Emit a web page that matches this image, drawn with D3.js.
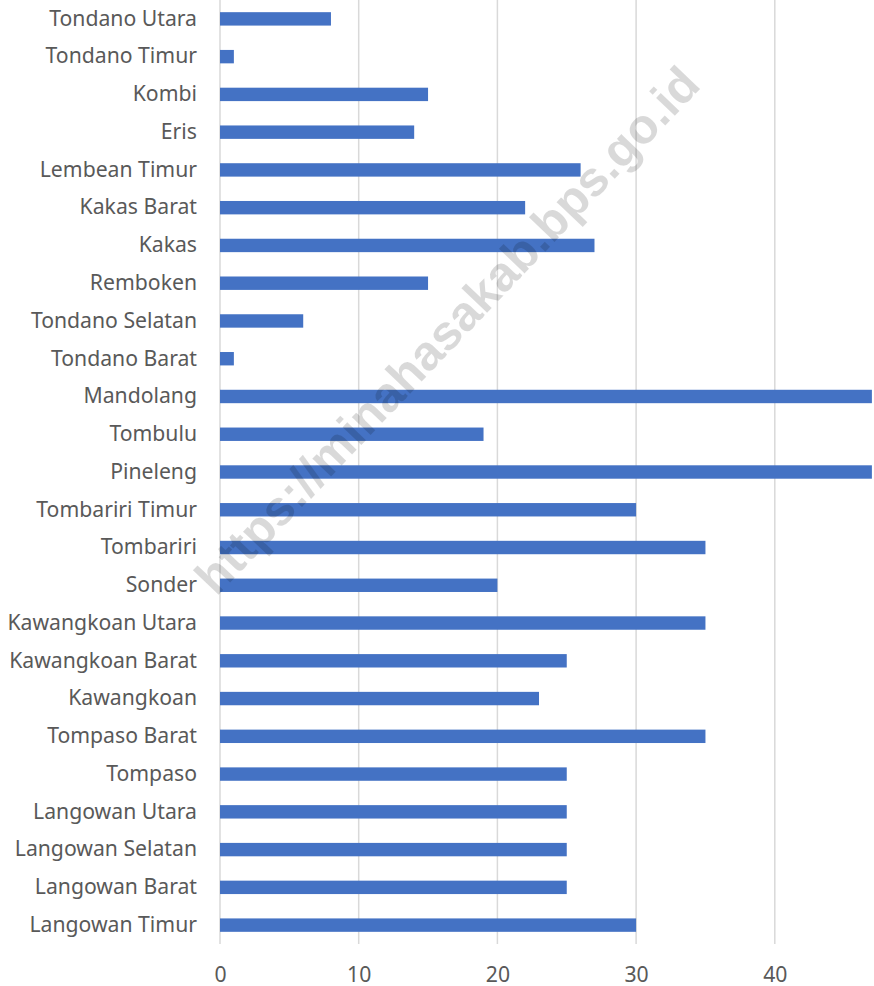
<!DOCTYPE html>
<html>
<head>
<meta charset="utf-8">
<script src="https://cdn.jsdelivr.net/npm/d3@7"></script>
<style>
  body { margin: 0; background: #fff; }
  svg { display: block; }
</style>
</head>
<body>
<svg width="874" height="986"></svg>
<script>
// categories top to bottom, as shown in the chart
const kecamatan = [
  'Tondano Utara', 'Tondano Timur', 'Kombi', 'Eris', 'Lembean Timur',
  'Kakas Barat', 'Kakas', 'Remboken', 'Tondano Selatan', 'Tondano Barat',
  'Mandolang', 'Tombulu', 'Pineleng', 'Tombariri Timur', 'Tombariri',
  'Sonder', 'Kawangkoan Utara', 'Kawangkoan Barat', 'Kawangkoan', 'Tompaso Barat',
  'Tompaso', 'Langowan Utara', 'Langowan Selatan', 'Langowan Barat', 'Langowan Timur'
];
const nilai = [
  8, 1, 15, 14, 26,
  22, 27, 15, 6, 1,
  47, 19, 47, 30, 35,
  20, 35, 25, 23, 35,
  25, 25, 25, 25, 30
];
const xTicks = [0, 10, 20, 30, 40];
const watermark = 'https://minahasakab.bps.go.id';

const svg = d3.select('svg');
const plotLeft = 220, plotTop = 0, plotBottom = 944;

// the original is cropped on the right, 10 units = ~138.7px
const x = d3.scaleLinear().domain([0, 50]).range([plotLeft, plotLeft + 50 * 13.87]);
const y = d3.scaleBand().domain(kecamatan).range([plotTop, plotBottom]).paddingInner(0.645).paddingOuter(0.3225);

// gridlines
svg.append('g').selectAll('line')
  .data(xTicks)
  .enter().append('line')
  .attr('x1', d => x(d)).attr('x2', d => x(d))
  .attr('y1', plotTop).attr('y2', plotBottom)
  .attr('stroke', '#d9d9d9').attr('stroke-width', 1.5);

// bars
svg.append('g').selectAll('rect')
  .data(nilai)
  .enter().append('rect')
  .attr('x', x(0))
  .attr('y', (d, i) => y(kecamatan[i]))
  .attr('width', d => x(d) - x(0))
  .attr('height', y.bandwidth())
  .attr('fill', '#4472c4');

// category labels
const yAxis = svg.append('g')
  .attr('transform', `translate(${plotLeft},0)`)
  .call(d3.axisLeft(y).tickSize(0).tickPadding(23));
yAxis.select('.domain').remove();
yAxis.selectAll('text')
  .attr('font-family', '"Noto Sans", sans-serif')
  .attr('font-size', 21.2)
  .attr('fill', '#595959');

// value labels
const xAxis = svg.append('g')
  .attr('transform', `translate(0,${plotBottom})`)
  .call(d3.axisBottom(x).tickValues(xTicks).tickSize(0).tickPadding(23));
xAxis.select('.domain').remove();
xAxis.selectAll('text')
  .attr('font-family', '"Noto Sans", sans-serif')
  .attr('font-size', 21.2)
  .attr('fill', '#595959');

// watermark
svg.append('text')
  .attr('transform', 'translate(450,333) rotate(-46.4)')
  .attr('text-anchor', 'middle')
  .attr('dominant-baseline', 'middle')
  .attr('font-family', '"Liberation Sans", Arial, sans-serif')
  .attr('font-weight', 'bold')
  .attr('font-size', 49)
  .attr('fill', 'rgba(0,0,0,0.15)')
  .text(watermark);
</script>
</body>
</html>
